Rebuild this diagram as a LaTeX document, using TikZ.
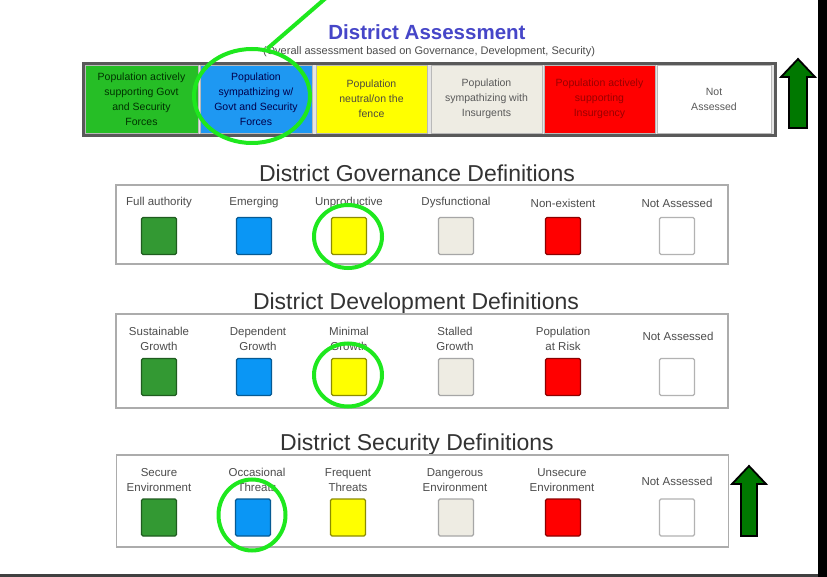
\documentclass[tikz,border=0pt]{standalone}
\usepackage{fontspec}
\setmainfont{Liberation Sans}
\usetikzlibrary{shapes.geometric}
\definecolor{topgreen}{HTML}{26BE26}
\definecolor{topblue}{HTML}{1E98F2}
\definecolor{cyellow}{HTML}{FFFF00}
\definecolor{cbeige}{HTML}{EEECE3}
\definecolor{cred}{HTML}{FF0000}
\definecolor{defgreen}{HTML}{339933}
\definecolor{defblue}{HTML}{0A96F5}
\definecolor{ringgreen}{HTML}{1EE81E}
\definecolor{arrowgreen}{HTML}{007800}
\definecolor{titleblue}{HTML}{4646C8}
\begin{document}
\begin{tikzpicture}[x=1pt,y=-1pt,
  defbox/.style={draw=gray!65, line width=1.3pt, inner sep=0pt, minimum width=612pt},
  sq/.style={minimum width=35pt, minimum height=37pt, inner sep=0pt, line width=1.3pt, rounded corners=1.5pt},
  lbl/.style={font=\fontsize{11.5}{14.5}\selectfont, text=black!70, align=center, inner sep=0pt},
  sectitle/.style={font=\fontsize{23}{27}\selectfont, text=black!80, anchor=base, inner sep=0pt},
  ring/.style={draw=ringgreen, line width=4pt, ellipse, inner sep=0pt},
  cell/.style={minimum height=68pt, inner sep=0pt, align=center, font=\fontsize{10.5}{15}\selectfont, draw=gray!55, line width=0.8pt},
  garrow/.style={fill=arrowgreen, draw=black, line width=1.8pt, line join=miter}
]
\useasboundingbox (0,0) rectangle (827,577);
\fill[white] (0,0) rectangle (827,577);

% frame lines
\fill[black] (818,0) rectangle (827,577);
\fill[black!75] (0,574) rectangle (818,577);

% title
\node[font=\fontsize{20.5}{24}\selectfont\bfseries, text=titleblue, anchor=base, inner sep=0pt] (title) at (427,40) {District Assessment};
\node[font=\fontsize{11}{13}\selectfont, text=black!70, anchor=base, inner sep=0pt] (subtitle) at (429,55) {(Overall assessment based on Governance, Development, Security)};

% top assessment box
\node[draw=black!65, fill=gray!20, line width=3pt, minimum width=692pt, minimum height=72pt, inner sep=0pt] (topbox) at (429.5,99.5) {};
\node[cell, fill=topgreen, text=black!80!green, minimum width=113pt] (a1) at (141.5,99) {Population actively\\supporting Govt\\and Security\\Forces};
\node[cell, fill=topblue, text=blue!30!black, minimum width=112pt] (a2) at (256,99) {Population\\sympathizing w/\\Govt and Security\\Forces};
\node[cell, fill=cyellow, text=black!80!yellow, minimum width=111pt] (a3) at (371.5,99) {Population\\neutral/on the\\fence};
\node[cell, fill=cbeige, text=black!65, minimum width=111pt] (a4) at (486.5,99) {Population\\sympathizing with\\Insurgents};
\node[cell, fill=cred, text=red!60!black, minimum width=111pt] (a5) at (599.5,99) {Population actively\\supporting\\Insurgency};
\node[cell, fill=white, text=black!65, minimum width=114pt] (a6) at (714,99) {Not\\Assessed};

% governance
\node[sectitle] (govtitle) at (417,182) {District Governance Definitions};
\node[defbox, minimum height=79pt] (govbox) at (422,224.5) {};
\node[lbl] (g1l) at (159,203) {Full authority};
\node[lbl] (g2l) at (254,203) {Emerging};
\node[lbl] (g3l) at (349,203) {Unproductive};
\node[lbl] (g4l) at (456,203) {Dysfunctional};
\node[lbl] (g5l) at (563,203) {Non-existent};
\node[lbl] (g6l) at (677,203) {Not Assessed};
\node[sq, fill=defgreen, draw=defgreen!60!black] (g1) at (159,236) {};
\node[sq, fill=defblue, draw=defblue!60!black] (g2) at (254,236) {};
\node[sq, fill=cyellow, draw=cyellow!55!black] (g3) at (349,236) {};
\node[sq, fill=cbeige, draw=gray!70] (g4) at (456,236) {};
\node[sq, fill=cred, draw=cred!55!black] (g5) at (563,236) {};
\node[sq, fill=white, draw=gray!60] (g6) at (677,236) {};

% development
\node[sectitle] (devtitle) at (416,309.5) {District Development Definitions};
\node[defbox, minimum height=94pt] (devbox) at (422,361) {};
\node[lbl] (d1l) at (159,339) {Sustainable\\Growth};
\node[lbl] (d2l) at (258,339) {Dependent\\Growth};
\node[lbl] (d3l) at (349,339) {Minimal\\Growth};
\node[lbl] (d4l) at (455,339) {Stalled\\Growth};
\node[lbl] (d5l) at (563,339) {Population\\at Risk};
\node[lbl] (d6l) at (678,336) {Not Assessed};
\node[sq, fill=defgreen, draw=defgreen!60!black] (d1) at (159,377) {};
\node[sq, fill=defblue, draw=defblue!60!black] (d2) at (254,377) {};
\node[sq, fill=cyellow, draw=cyellow!55!black] (d3) at (349,377) {};
\node[sq, fill=cbeige, draw=gray!70] (d4) at (456,377) {};
\node[sq, fill=cred, draw=cred!55!black] (d5) at (563,377) {};
\node[sq, fill=white, draw=gray!60] (d6) at (677,377) {};

% security
\node[sectitle] (sectitle) at (417,450) {District Security Definitions};
\node[defbox, minimum height=92pt] (secbox) at (422.5,501) {};
\node[lbl] (s1l) at (159,480) {Secure\\Environment};
\node[lbl] (s2l) at (257,480) {Occasional\\Threats};
\node[lbl] (s3l) at (348,480) {Frequent\\Threats};
\node[lbl] (s4l) at (455,480) {Dangerous\\Environment};
\node[lbl] (s5l) at (562,480) {Unsecure\\Environment};
\node[lbl] (s6l) at (677,481) {Not Assessed};
\node[sq, fill=defgreen, draw=defgreen!60!black] (s1) at (159,517.5) {};
\node[sq, fill=defblue, draw=defblue!60!black] (s2) at (253,517.5) {};
\node[sq, fill=cyellow, draw=cyellow!55!black] (s3) at (348,517.5) {};
\node[sq, fill=cbeige, draw=gray!70] (s4) at (456,517.5) {};
\node[sq, fill=cred, draw=cred!55!black] (s5) at (563,517.5) {};
\node[sq, fill=white, draw=gray!60] (s6) at (677,517.5) {};

% highlight rings
\node[ring, minimum width=116pt, minimum height=94pt] (topring) at (252,96) {};
\node[ring, minimum width=68pt, minimum height=63pt] (govring) at (348,236.5) {};
\node[ring, minimum width=68pt, minimum height=63pt] (devring) at (348,375) {};
\node[ring, minimum width=67pt, minimum height=71pt] (secring) at (252,515) {};
\coordinate (linetop) at (327,-3);
\draw[ringgreen, line width=4pt] (linetop) -- (topring.72);

% arrows
\filldraw[garrow] (789,128) -- (789,77) -- (781,77) -- (798,59) -- (815,77) -- (807,77) -- (807,128) -- cycle;
\filldraw[garrow] (741,536) -- (741,484) -- (732,484) -- (749,466) -- (766,484) -- (757,484) -- (757,536) -- cycle;
\end{tikzpicture}
\end{document}
